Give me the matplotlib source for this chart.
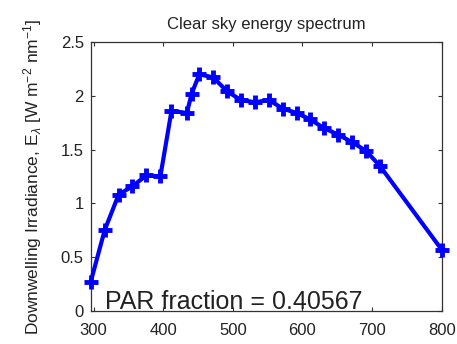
import matplotlib
matplotlib.use("Agg")
import matplotlib.pyplot as plt

wavelength = [296, 316, 336, 356, 376, 396, 412, 434, 441, 452, 472, 492, 512,
              532, 552, 572, 592, 611, 631, 651, 671, 691, 711, 800]
irradiance = [0.27, 0.75, 1.08, 1.16, 1.26, 1.25, 1.86, 1.84, 2.02, 2.20, 2.17,
              2.04, 1.96, 1.94, 1.96, 1.88, 1.84, 1.78, 1.70, 1.64, 1.57, 1.49,
              1.35, 0.57]
xticks = [300, 400, 500, 600, 700, 800]
yticks = [0, 0.5, 1, 1.5, 2, 2.5]
ytick_labels = ["0", "0.5", "1", "1.5", "2", "2.5"]
title = "Clear sky energy spectrum"
ylabel = r"Downwelling Irradiance, E$_\lambda$ [W m$^{-2}$ nm$^{-1}$]"
par_text = "PAR fraction = 0.40567"

plt.rcParams['font.family'] = ['Liberation Sans', 'DejaVu Sans']
plt.rcParams['mathtext.fontset'] = 'custom'
plt.rcParams['mathtext.rm'] = 'Liberation Sans'
plt.rcParams['mathtext.it'] = 'Liberation Sans:italic'

fig = plt.figure(figsize=(4.57, 3.44), dpi=100)
ax = fig.add_axes([0.1985, 0.096, 0.768, 0.782])
ax.plot(wavelength, irradiance, color=(0, 0, 1), linewidth=3,
        marker='+', markersize=10, markeredgewidth=3.5, clip_on=False, zorder=3)
ax.set_xlim(wavelength[0], 800)
ax.set_ylim(0, 2.5)
ax.set_xticks(xticks)
ax.set_yticks(yticks)
ax.set_yticklabels(ytick_labels)
ax.tick_params(direction='in', top=True, right=True, labelsize=12,
               length=3, width=0.8, colors='#333333', labelcolor='#222222')
ax.tick_params(axis='x', pad=9)
ax.tick_params(axis='y', pad=5)
for s in ax.spines.values():
    s.set_color('#333333')
    s.set_linewidth(0.9)
ax.set_title(title, fontsize=12, color='#222222', pad=9)
ax.set_ylabel(ylabel, fontsize=12.5, color='#222222', labelpad=12)
ax.text(0.041, 0.008, par_text, transform=ax.transAxes, fontsize=18,
        color='#222222', ha='left', va='baseline')
fig.savefig("out.png", dpi=100)
